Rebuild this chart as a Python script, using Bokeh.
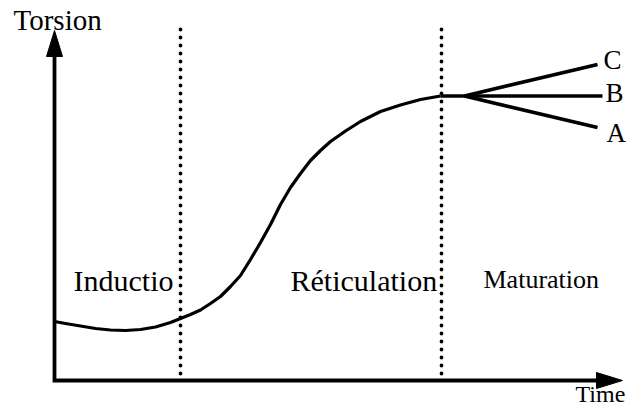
from bokeh.plotting import figure
from bokeh.models import Range1d
from bokeh.core.properties import value
from bokeh.embed import file_html
from bokeh.resources import INLINE

# ---- data (arbitrary units: time, torsion) ----
time_pts = [0, 1.1, 2.6, 4.1, 5.6, 7.1, 8.6, 10.1, 11.6, 12.6, 13.6, 14.6, 15.6,
            16.6, 17.6, 18.6, 19.6, 20.6, 21.6, 22.6, 23.6, 24.6, 25.6, 26.6,
            27.6, 29.1, 30.6, 32.6, 34.6, 36.6, 38.6]
torsion_pts = [5.9, 5.7, 5.45, 5.2, 5.05, 5.0, 5.1, 5.35, 5.8, 6.2, 6.6, 7.05, 7.7,
               8.4, 9.4, 10.5, 12.1, 13.8, 15.6, 17.6, 19.3, 20.7, 22.0, 23.0,
               23.9, 24.95, 25.9, 26.9, 27.55, 28.1, 28.45]

branch_names = ["A", "B", "C"]
branch_time = {"A": [41.0, 54.3], "B": [38.6, 54.8], "C": [41.0, 54.3]}
branch_torsion = {"A": [28.45, 25.3], "B": [28.45, 28.45], "C": [28.45, 31.6]}
branch_label_t = [55.2, 55.1, 54.9]
branch_label_T = [24.75, 28.75, 32.1]

phase_bounds = [12.6, 38.7]
phase_names = ["Inductio", "Réticulation", "Maturation"]
phase_label_t = [1.9, 23.6, 42.9]
phase_label_T = [10.0, 10.0, 10.1]
phase_font = ["30px", "30px", "26px"]

axis_max_t = 56.8
axis_max_T = 35.0
x_label = "Time"
y_label = "Torsion"

FONT = "Liberation Serif"

p = figure(width=633, height=407, output_backend="svg", toolbar_location=None,
           x_range=Range1d(-5.4, 57.9), y_range=Range1d(-2.7, 38.0),
           x_axis_type=None, y_axis_type=None, min_border=0,
           outline_line_color=None, background_fill_color="white",
           border_fill_color="white")
p.xgrid.visible = False
p.ygrid.visible = False

# axes with arrowheads
head_len = 2.6
head_half = 0.8
p.line([0, 0, axis_max_t - head_len + 0.3], [axis_max_T - head_len + 0.3, 0, 0],
       line_color="black", line_width=3.8, line_join="miter")
p.patch([0, -head_half, head_half], [axis_max_T, axis_max_T - head_len, axis_max_T - head_len],
        fill_color="black", line_color="black", line_width=1)
p.patch([axis_max_t, axis_max_t - head_len, axis_max_t - head_len], [0, head_half, -head_half],
        fill_color="black", line_color="black", line_width=1)

# dotted phase boundaries
for b in phase_bounds:
    p.line([b, b], [0.7, 35.3], line_color="black", line_width=3.8,
           line_dash="0 8", line_cap="round")

# main curve
p.line(time_pts, torsion_pts, line_color="black", line_width=3.2, line_join="round")

# branches
for name in branch_names:
    p.line(branch_time[name], branch_torsion[name], line_color="black", line_width=3.6)

p.text(x=branch_label_t, y=branch_label_T, text=branch_names,
       text_font=value(FONT), text_font_size="27px", text_color="black",
       text_baseline="middle", text_align="left")

for name, tx, ty, fs in zip(phase_names, phase_label_t, phase_label_T, phase_font):
    p.text(x=[tx], y=[ty], text=[name], text_font=value(FONT), text_font_size=fs,
           text_color="black", text_baseline="middle", text_align="left")

p.text(x=[-4.1], y=[36.05], text=[y_label], text_font=value(FONT), text_font_size="29px",
       text_color="black", text_baseline="middle", text_align="left")
p.text(x=[52.1], y=[-1.3], text=[x_label], text_font=value(FONT), text_font_size="24px",
       text_color="black", text_baseline="middle", text_align="left")

open("out.html", "w").write(file_html(p, INLINE))
